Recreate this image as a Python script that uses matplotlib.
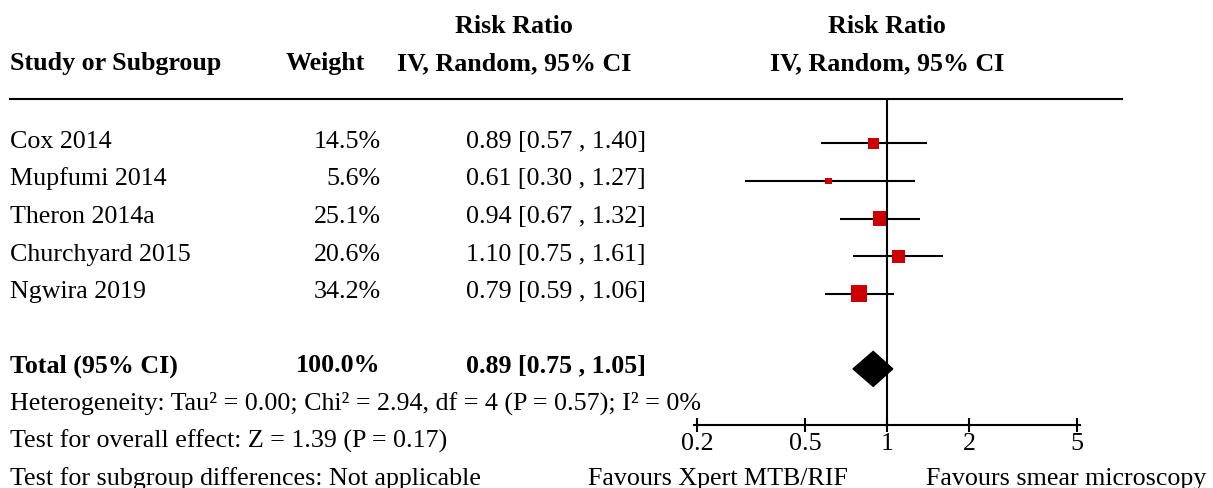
import matplotlib
matplotlib.use("Agg")
import matplotlib.pyplot as plt
import numpy as np

plt.rcParams['font.family'] = ['Liberation Serif', 'DejaVu Serif']

studies = ["Cox 2014", "Mupfumi 2014", "Theron 2014a", "Churchyard 2015", "Ngwira 2019"]
weights = [14.5, 5.6, 25.1, 20.6, 34.2]
rr = [0.89, 0.61, 0.94, 1.10, 0.79]
ci_low = [0.57, 0.30, 0.67, 0.75, 0.59]
ci_high = [1.40, 1.27, 1.32, 1.61, 1.06]

total_rr = 0.89
total_low = 0.75
total_high = 1.05

xticks = [0.2, 0.5, 1, 2, 5]
xtick_labels = ["0.2", "0.5", "1", "2", "5"]

footer = [
    "Heterogeneity: Tau\u00b2 = 0.00; Chi\u00b2 = 2.94, df = 4 (P = 0.57); I\u00b2 = 0%",
    "Test for overall effect: Z = 1.39 (P = 0.17)",
    "Test for subgroup differences: Not applicable",
]

W, H = 1213, 489
FS = 18.7
ROW0, ROWH = 144.3, 37.6


def row_px(i):
    return ROW0 + ROWH * i


fig = plt.figure(figsize=(W / 100, H / 100), dpi=100)

# background axes in pixel coordinates for all the table text
bg = fig.add_axes([0, 0, 1, 1])
bg.set_xlim(0, W)
bg.set_ylim(H, 0)
bg.axis('off')

# headers
bg.text(514, 33, "Risk Ratio", ha='center', va='baseline', fontsize=FS, fontweight='bold')
bg.text(887, 33, "Risk Ratio", ha='center', va='baseline', fontsize=FS, fontweight='bold')
bg.text(10, 70, "Study or Subgroup", ha='left', va='baseline', fontsize=FS, fontweight='bold')
bg.text(365.5, 70, "Weight", ha='right', va='baseline', fontsize=FS, fontweight='bold')
bg.text(514, 70, "IV, Random, 95% CI", ha='center', va='baseline', fontsize=FS, fontweight='bold')
bg.text(887, 70, "IV, Random, 95% CI", ha='center', va='baseline', fontsize=FS, fontweight='bold')
bg.plot([10, 1122], [100, 100], color='black', lw=1.5)

# study rows
for i, name in enumerate(studies):
    y = row_px(i) + 3.5
    bg.text(10, y, name, ha='left', va='baseline', fontsize=FS)
    bg.text(381, y, "{:.1f}%".format(weights[i]), ha='right', va='baseline', fontsize=FS)
    bg.text(646, y, "{:.2f} [{:.2f} , {:.2f}]".format(rr[i], ci_low[i], ci_high[i]),
            ha='right', va='baseline', fontsize=FS)

# total row
y = row_px(6) + 2.5
bg.text(10, y, "Total (95% CI)", ha='left', va='baseline', fontsize=FS, fontweight='bold')
bg.text(381, y, "{:.1f}%".format(sum(weights)), ha='right', va='baseline', fontsize=FS, fontweight='bold')
bg.text(646, y, "{:.2f} [{:.2f} , {:.2f}]".format(total_rr, total_low, total_high),
        ha='right', va='baseline', fontsize=FS, fontweight='bold')

for k, line in enumerate(footer):
    bg.text(10, row_px(7 + k) + 2.5, line, ha='left', va='baseline', fontsize=FS)

bg.text(848, row_px(9) + 2.5, "Favours Xpert MTB/RIF", ha='right', va='baseline', fontsize=FS)
bg.text(926, row_px(9) + 2.5, "Favours smear microscopy", ha='left', va='baseline', fontsize=FS)

# forest plot axes
x0, x1 = 0.195, 5.13
left_px = 887 + np.log10(x0) * 272
right_px = 887 + np.log10(x1) * 272
top_px, bot_px = 100, 426
ax = fig.add_axes([left_px / W, (H - bot_px) / H, (right_px - left_px) / W, (bot_px - top_px) / H])
ax.patch.set_alpha(0)
ax.set_xscale('log')
ax.set_xlim(x0, x1)
ax.set_ylim((bot_px - ROW0) / ROWH, (top_px - ROW0) / ROWH)
for s in ['top', 'right', 'left']:
    ax.spines[s].set_visible(False)
ax.spines['bottom'].set_linewidth(1.5)
ax.set_yticks([])
ax.set_xticks(xticks)
ax.set_xticklabels(xtick_labels)
ax.minorticks_off()
ax.tick_params(axis='x', direction='inout', length=10, width=1.5, pad=0, labelsize=FS)

rows = np.arange(len(studies))
ax.hlines(rows, ci_low, ci_high, color='black', lw=1.5, zorder=2)
sides = 2.85 * np.sqrt(weights) * 0.72
ax.scatter(rr, rows, marker='s', s=sides ** 2, color='#cc0000', linewidths=0, zorder=3)

h = 17.5 / ROWH
ax.fill([total_low, total_rr, total_high, total_rr], [6, 6 - h, 6, 6 + h], color='black', zorder=3)
ax.axvline(1, color='black', lw=1.5, zorder=4)

fig.savefig("out.png", dpi=100)
